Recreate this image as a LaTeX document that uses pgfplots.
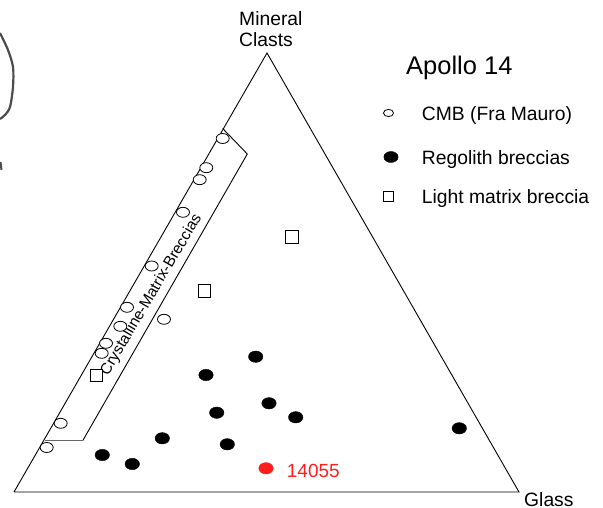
\documentclass[border=0pt]{standalone}
\usepackage{pgfplots}
\pgfplotsset{compat=1.18}
\usepackage{fontspec}
\setmainfont{Liberation Sans}
\definecolor{ptred}{RGB}{255,30,30}
\begin{document}
\begin{tikzpicture}
\begin{axis}[
  width=603pt, height=508pt, scale only axis,
  xmin=0, xmax=603, ymin=0, ymax=508, y dir=reverse,
  hide axis, clip=false,
]
% scan artifact at left edge
\addplot[smooth, line width=2.2pt, black!70] coordinates {(0,33) (8,50) (13,67) (13,87) (10,107) (5,115) (0,119)};
\addplot[line width=2pt, black!70] coordinates {(0.5,162) (1.5,170)};
% ternary triangle
\addplot[black, line width=0.9pt] coordinates {(14,492) (519,492) (267,53) (14,492)};
% crystalline-matrix breccia field
\addplot[black, line width=0.9pt] coordinates {(222.7,128.5) (247.3,154) (82.7,440.7)};
\addplot[black!60, line width=1pt] coordinates {(82.7,440.7) (45,440.7)};
% CMB (Fra Mauro)
\addplot[only marks, mark=*, mark size=5pt, mark options={xscale=1.3, draw=black, fill=white, line width=0.8pt}] coordinates {
(222.7,138.5) (206.3,167.7) (199.7,179.7) (183,212.3) (151.7,266) (127,307.3)
(120.3,326.3) (106,343.3) (101.7,353.3) (164,319.3) (60.7,423.3) (46.7,447.5)};
% Regolith breccias
\addplot[only marks, mark=*, mark size=5.7pt, mark options={xscale=1.27, draw=black, fill=black}] coordinates {
(255.7,356.7) (206,375) (269,403.3) (216.7,412.7) (295.7,417.3) (227.3,444.3)
(162.3,438.3) (102.3,455) (132.3,464) (459.3,428.3)};
% 14055
\addplot[only marks, mark=*, mark size=5.7pt, mark options={xscale=1.27, draw=ptred, fill=ptred}] coordinates {(266,468.3)};
% Light matrix breccia
\addplot[only marks, mark=square*, mark size=6.3pt, mark options={draw=black, fill=white, line width=0.8pt}] coordinates {
(291.7,236.7) (204.3,291) (96.3,375.5)};
% legend markers
\addplot[only marks, mark=*, mark size=3.6pt, mark options={xscale=1.4, draw=black, fill=white, line width=0.8pt}] coordinates {(388.5,113)};
\addplot[only marks, mark=*, mark size=5.5pt, mark options={xscale=1.3, draw=black, fill=black}] coordinates {(391,157)};
\addplot[only marks, mark=square*, mark size=5pt, mark options={draw=black, fill=white, line width=0.8pt}] coordinates {(388.5,196.5)};
% texts
\node[anchor=base west, inner sep=0pt, font=\fontsize{25.5}{30}\selectfont] at (axis cs:406,75) {Apollo 14};
\node[anchor=base west, inner sep=0pt, font=\fontsize{19.3}{23}\selectfont] at (axis cs:421.7,120.7) {CMB (Fra Mauro)};
\node[anchor=base west, inner sep=0pt, font=\fontsize{19.3}{23}\selectfont] at (axis cs:421.7,164.4) {Regolith breccias};
\node[anchor=base west, inner sep=0pt, font=\fontsize{19.3}{23}\selectfont] at (axis cs:421.7,203.5) {Light matrix breccia};
\node[anchor=base west, inner sep=0pt, font=\fontsize{19.3}{23}\selectfont] at (axis cs:239,26) {Mineral};
\node[anchor=base west, inner sep=0pt, font=\fontsize{19.3}{23}\selectfont] at (axis cs:239,47) {Clasts};
\node[anchor=base west, inner sep=0pt, font=\fontsize{19.3}{23}\selectfont] at (axis cs:524,506) {Glass};
\node[anchor=base west, inner sep=0pt, text=ptred, font=\fontsize{19}{23}\selectfont] at (axis cs:286.7,477) {14055};
\node[rotate=59.5, inner sep=0pt, font=\fontsize{15.5}{18}\selectfont] at (axis cs:151.5,295) {Crystalline-Matrix-Breccias};
\end{axis}
\pgfresetboundingbox
\path (current axis.south west) rectangle (current axis.north east);
\end{tikzpicture}
\end{document}
